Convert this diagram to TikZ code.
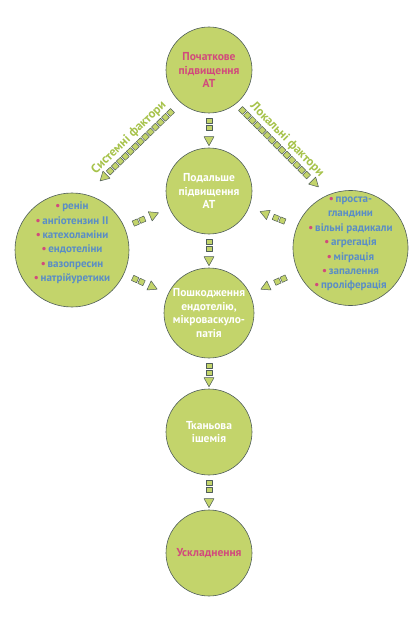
\documentclass[tikz,border=0pt]{standalone}
\usepackage{fontspec}
\setmainfont{PT Sans}
\usetikzlibrary{calc,decorations.markings}
\definecolor{circgreen}{HTML}{C3D46B}
\definecolor{rimgrey}{HTML}{4F5D5A}
\definecolor{txtpink}{HTML}{D24A7C}
\definecolor{txtblue}{HTML}{5A8DC6}
\definecolor{lblgreen}{HTML}{A6C24A}
\tikzset{
  stagecirc/.style={circle, draw=rimgrey, line width=0.6pt, fill=circgreen, inner sep=0pt, align=center, font=\bfseries\fontsize{11.5}{13.5}\selectfont, minimum size=#1},
  stagecirc/.default=86pt,
  listtext/.style={align=center, text=txtblue, font=\bfseries\fontsize{11}{14.4}\selectfont},
  factlabel/.style={text=lblgreen, font=\bfseries\fontsize{12.5}{14}\selectfont, sloped, above, inner sep=5pt},
  sqpiece/.style={fill=circgreen, draw=rimgrey, line width=0.5pt, line join=round},
  sqchain/.style={postaction={decorate}, decoration={markings,
      mark=between positions 3.5pt and -12pt step 7pt with {\filldraw[sqpiece] (-2.8,-2.8) rectangle (2.8,2.8);},
      mark=at position 1 with {\filldraw[sqpiece] (0,0) -- (-9,5) -- (-9,-5) -- cycle;}}}
}
\newcommand{\pinkdot}{{\color{txtpink}\textbullet}\,}
\begin{document}
\begin{tikzpicture}[x=1pt, y=-1pt]
\useasboundingbox (0,0) rectangle (414,620);
\node[stagecirc, text=txtpink] (start) at (209,70) {Початкове\\підвищення\\АТ};
\node[stagecirc, text=white] (further) at (209,191) {Подальше\\підвищення\\АТ};
\node[stagecirc=90pt, text=white] (damage) at (209,313) {Пошкодження\\ендотелію,\\мікроваскуло-\\патія};
\node[stagecirc, text=white] (ischemia) at (209,432) {Тканьова\\ішемія};
\node[stagecirc, text=txtpink] (complic) at (209,553) {Ускладнення};
\node[stagecirc=114pt] (system) at (72,250) {};
\node[stagecirc=115pt] (local) at (350.5,248) {};
\node[listtext] (systemlist) at ([yshift=7pt]system.center) {\pinkdot ренін\\\pinkdot ангіотензин II\\\pinkdot катехоламіни\\\pinkdot ендотеліни\\\pinkdot вазопресин\\\pinkdot натрійуретики};
\node[listtext] (locallist) at ([yshift=4pt]local.center) {\pinkdot проста-\\гландини\\\pinkdot вільні радикали\\\pinkdot агрегація\\\pinkdot міграція\\\pinkdot запалення\\\pinkdot проліферація};
\path[sqchain] ($(start)+(-36,40)$) -- node[factlabel] {Системні фактори} ($(system)+(28,-69)$);
\path[sqchain] ($(start)+(31,38)$) -- node[factlabel] {Локальні фактори} ($(local)+(-32,-61)$);
\path[sqchain] ($(start.south)+(0,4)$) -- ($(further.north)+(0,-2)$);
\path[sqchain] ($(further.south)+(0,4)$) -- ($(damage.north)+(0,-2)$);
\path[sqchain] ($(damage.south)+(0,4)$) -- ($(ischemia.north)+(0,-2)$);
\path[sqchain] ($(ischemia.south)+(0,4)$) -- ($(complic.north)+(0,-2)$);
\path[sqchain] ($(system)!66pt!(further)$) -- ($(further)!55pt!(system)$);
\path[sqchain] ($(system)!66pt!(damage)$) -- ($(damage)!57pt!(system)$);
\path[sqchain] ($(local)!70pt!(further)$) -- ($(further)!55pt!(local)$);
\path[sqchain] ($(local)!70pt!(damage)$) -- ($(damage)!57pt!(local)$);
\end{tikzpicture}
\end{document}
